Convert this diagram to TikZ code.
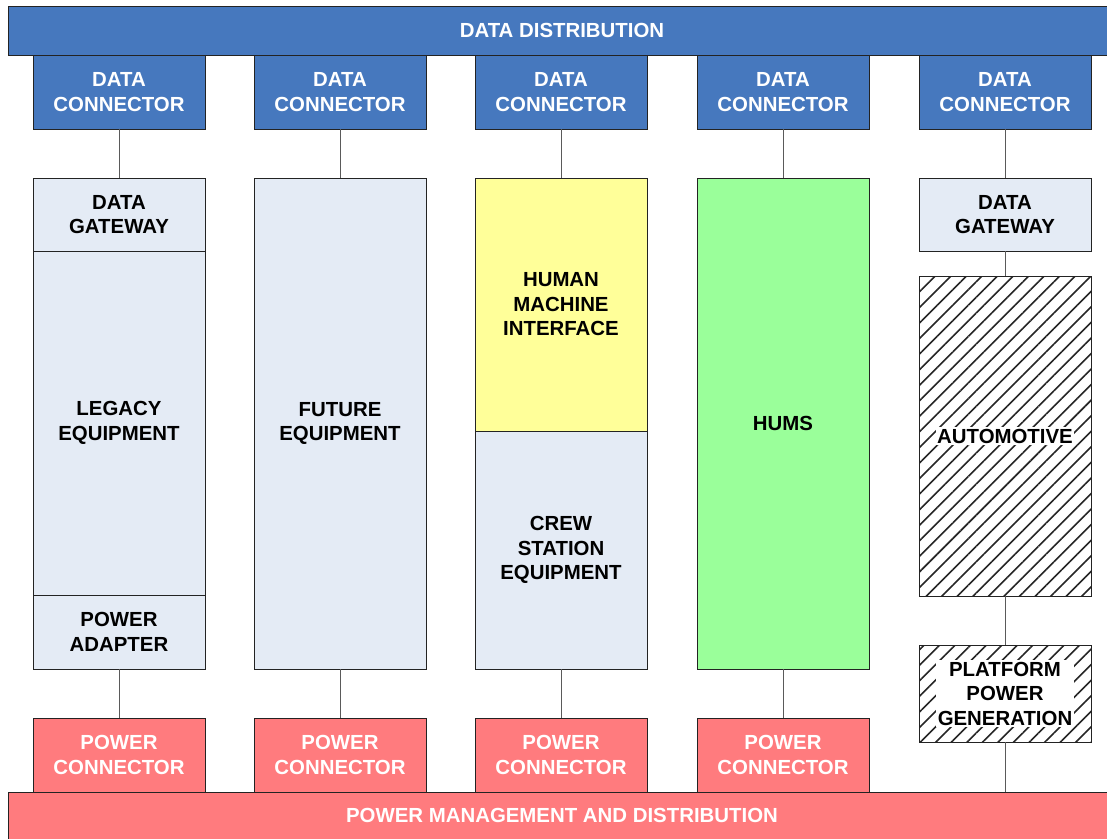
\documentclass[tikz,border=0pt]{standalone}
\usepackage{fontspec}
\setmainfont{Liberation Sans}
\usetikzlibrary{patterns.meta}
\definecolor{dblue}{RGB}{70,120,190}
\definecolor{pred}{RGB}{255,123,126}
\definecolor{lgray}{RGB}{228,235,245}
\definecolor{hyel}{RGB}{255,255,153}
\definecolor{hgrn}{RGB}{154,255,154}
\definecolor{edgec}{RGB}{35,35,35}
\definecolor{wirec}{RGB}{90,90,90}
\begin{document}
\begin{tikzpicture}[x=1pt,y=-1pt,
  box/.style={draw=edgec,line width=1pt,inner sep=0pt,outer sep=0pt,minimum width=172pt,anchor=north west,align=center,font=\fontsize{20.4}{24.5}\selectfont\bfseries},
  dcon/.style={box,fill=dblue,text=white,minimum height=74pt},
  pcon/.style={box,fill=pred,text=white,minimum height=74pt},
  gbox/.style={box,fill=lgray},
  ybox/.style={box,fill=hyel},
  grbox/.style={box,fill=hgrn},
  hatchbox/.style={box,pattern={Lines[angle=45,distance=11pt,line width=1.6pt]},pattern color=black!85},
  wbg/.style={fill=white,inner sep=1.5pt,align=center,font=\fontsize{20.4}{24.5}\selectfont\bfseries},
  bar/.style={draw=edgec,line width=1pt,inner sep=0pt,outer sep=0pt,anchor=north west,minimum width=1112pt},
  wire/.style={draw=wirec,line width=0.9pt},
  bartext/.style={text=white,font=\fontsize{20.4}{24.5}\selectfont\bfseries}
]
\clip (0,0) rectangle (1107,838);
\fill[white] (0,0) rectangle (1107,838);
% bars
\node[bar,fill=dblue,minimum height=49pt] (dd) at (8,6) {};
\node[bartext] (ddt) at (562,30) {DATA DISTRIBUTION};
\node[bar,fill=pred,minimum height=60pt] (pmd) at (8,792) {};
\node[bartext] (pmdt) at (562,815) {POWER MANAGEMENT AND DISTRIBUTION};
% data connectors
\node[dcon] (dc1) at (33,55) {DATA\\CONNECTOR};
\node[dcon] (dc2) at (254,55) {DATA\\CONNECTOR};
\node[dcon] (dc3) at (475,55) {DATA\\CONNECTOR};
\node[dcon] (dc4) at (697,55) {DATA\\CONNECTOR};
\node[dcon] (dc5) at (919,55) {DATA\\CONNECTOR};
% power connectors
\node[pcon] (pc1) at (33,718) {POWER\\CONNECTOR};
\node[pcon] (pc2) at (254,718) {POWER\\CONNECTOR};
\node[pcon] (pc3) at (475,718) {POWER\\CONNECTOR};
\node[pcon] (pc4) at (697,718) {POWER\\CONNECTOR};
% column 1
\node[gbox,minimum height=73pt] (dg1) at (33,178) {DATA\\GATEWAY};
\node[gbox,minimum height=344pt] (leg) at (33,251) {LEGACY\\EQUIPMENT};
\node[gbox,minimum height=74pt] (pa) at (33,595) {POWER\\ADAPTER};
% column 2
\node[gbox,minimum height=491pt] (fut) at (254,178) {FUTURE\\EQUIPMENT};
% column 3
\node[ybox,minimum height=253pt] (hmi) at (475,178) {HUMAN\\MACHINE\\INTERFACE};
\node[gbox,minimum height=238pt] (crew) at (475,431) {CREW\\STATION\\EQUIPMENT};
% column 4
\node[grbox,minimum height=491pt] (hums) at (697,178) {HUMS};
% column 5
\node[gbox,minimum height=73pt] (dg5) at (919,178) {DATA\\GATEWAY};
\node[hatchbox,minimum height=320pt] (auto) at (919,276) {};
\node[wbg] (autot) at (auto.center) {AUTOMOTIVE};
\node[hatchbox,minimum height=97pt] (ppg) at (919,645) {};
\node[wbg] (ppgt) at (ppg.center) {PLATFORM\\POWER\\GENERATION};
% wires
\draw[wire] (dc1.south) -- (dg1.north);
\draw[wire] (dc2.south) -- (fut.north);
\draw[wire] (dc3.south) -- (hmi.north);
\draw[wire] (dc4.south) -- (hums.north);
\draw[wire] (dc5.south) -- (dg5.north);
\draw[wire] (pa.south) -- (pc1.north);
\draw[wire] (fut.south) -- (pc2.north);
\draw[wire] (crew.south) -- (pc3.north);
\draw[wire] (hums.south) -- (pc4.north);
\draw[wire] (dg5.south) -- (auto.north);
\draw[wire] (auto.south) -- (ppg.north);
\draw[wire] (ppg.south) -- (ppg.south |- pmd.north);
\end{tikzpicture}
\end{document}
